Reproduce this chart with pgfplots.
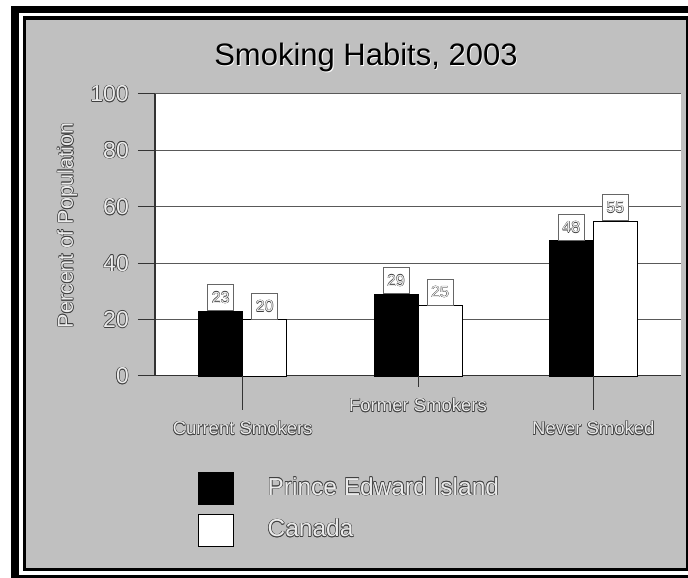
\documentclass[border=0pt]{standalone}
\usepackage{pgfplots}
\pgfplotsset{compat=1.18}
\usepackage{fontspec}
\setmainfont{Liberation Sans}
\definecolor{bggray}{HTML}{C0C0C0}
\newcommand{\outlw}[2]{\begingroup\setbox0=\hbox{#2}%
\rlap{\kern#1\textcolor{black!75}{\copy0}}%
\rlap{\kern-#1\textcolor{black!75}{\copy0}}%
\rlap{\raise#1\hbox{\textcolor{black!75}{\copy0}}}%
\rlap{\lower#1\hbox{\textcolor{black!75}{\copy0}}}%
\textcolor{white!92!black}{\copy0}\endgroup}
\newcommand{\outl}[1]{\begingroup\setbox0=\hbox{#1}%
\rlap{\kern0.6pt\textcolor{black!75}{\copy0}}%
\rlap{\kern-0.6pt\textcolor{black!75}{\copy0}}%
\rlap{\raise0.6pt\hbox{\textcolor{black!75}{\copy0}}}%
\rlap{\lower0.6pt\hbox{\textcolor{black!75}{\copy0}}}%
\rlap{\kern0.45pt\raise0.45pt\hbox{\textcolor{black!75}{\copy0}}}%
\rlap{\kern-0.45pt\lower0.45pt\hbox{\textcolor{black!75}{\copy0}}}%
\rlap{\kern0.45pt\lower0.45pt\hbox{\textcolor{black!75}{\copy0}}}%
\rlap{\kern-0.45pt\raise0.45pt\hbox{\textcolor{black!75}{\copy0}}}%
\textcolor{white!92!black}{\copy0}\endgroup}
\newcommand{\shadowt}[1]{\begingroup\setbox0=\hbox{#1}%
\rlap{\kern0.9pt\lower0.9pt\hbox{\textcolor{white}{\copy0}}}%
\textcolor{black}{\copy0}\endgroup}
\pgfplotsset{mylegend/.style={legend image code/.code={\draw[##1] (0pt,-9pt) rectangle (35pt,23pt); \path (69pt,0pt);}}}
\begin{document}
\begin{tikzpicture}
\useasboundingbox (0pt,0pt) rectangle (688pt,578pt);
\fill[white] (0pt,0pt) rectangle (688pt,578pt);
\fill[black] (11pt,-10pt) rectangle (700pt,572pt);
\fill[white] (19pt,3pt) rectangle (700pt,565pt);
\fill[black] (23pt,7pt) rectangle (700pt,562pt);
\fill[bggray] (26pt,10pt) rectangle (686pt,558pt);
\begin{axis}[
  at={(155pt,202pt)}, anchor=south west,
  scale only axis, width=526pt, height=282pt,
  clip=false,
  axis background/.style={fill=white},
  ybar=0pt, bar width=44pt,
  xmin=-0.5, xmax=2.5, ymin=0, ymax=100,
  enlargelimits=false,
  axis lines*=left,
  axis line style={black!80, line width=1pt},
  xtick=\empty,
  ytick={0,20,40,60,80,100},
  ymajorgrids, grid style={black!65, line width=1pt},
  tick align=outside, major tick length=17pt,
  tick style={black!80, line width=1pt},
  /pgf/number format/assume math mode=true,
  yticklabel={\outl{\pgfmathprintnumber{\tick}}},
  yticklabel style={font=\fontsize{23}{23}\selectfont, inner sep=0pt, xshift=-9pt},
  ylabel={\outl{Percent of Population}},
  ylabel style={at={(axis description cs:-0.1559,0.534)}, anchor=base, font=\fontsize{21.5}{21.5}\selectfont},
  title={\shadowt{Smoking Habits, 2003}},
  title style={at={(axis description cs:0.401,1)}, anchor=base, yshift=22pt, font=\fontsize{31}{31}\selectfont},
  legend style={at={(axis description cs:0,0)}, anchor=north west, xshift=43pt, yshift=-96pt,
    draw=none, fill=none, inner sep=0pt, row sep=9pt,
    nodes={inner sep=0pt, anchor=base west}, font=\fontsize{24.5}{24.5}\selectfont},
  legend cell align=left,
  nodes near coords={\outlw{0.35pt}{\pgfmathprintnumber{\pgfplotspointmeta}}},
  every node near coord/.append style={draw=black!60, fill=white, line width=0.8pt,
    minimum width=26pt, minimum height=26pt, inner sep=0pt, anchor=south, yshift=0pt,
    font=\fontsize{16}{16}\selectfont, text=black},
]
\addplot[fill=black, draw=black, mylegend] coordinates {(0,23) (1,29) (2,48)};
\addlegendentry{\outl{Prince Edward Island}}
\addplot[fill=white, draw=black, mylegend] coordinates {(0,20) (1,25) (2,55)};
\addlegendentry{\outl{Canada}}
\draw[black!80, line width=1pt] (axis cs:0,0) -- ++(0pt,-34pt);
\draw[black!80, line width=1pt] (axis cs:1,0) -- ++(0pt,-11pt);
\draw[black!80, line width=1pt] (axis cs:2,0) -- ++(0pt,-34pt);
\node[anchor=base, font=\fontsize{18.5}{18.5}\selectfont] at ([yshift=-59pt]axis cs:0,0) {\outl{Current Smokers}};
\node[anchor=base, font=\fontsize{18.5}{18.5}\selectfont] at ([yshift=-36pt]axis cs:1,0) {\outl{Former Smokers}};
\node[anchor=base, font=\fontsize{18.5}{18.5}\selectfont] at ([yshift=-59pt]axis cs:2,0) {\outl{Never Smoked}};
\end{axis}
\end{tikzpicture}
\end{document}
